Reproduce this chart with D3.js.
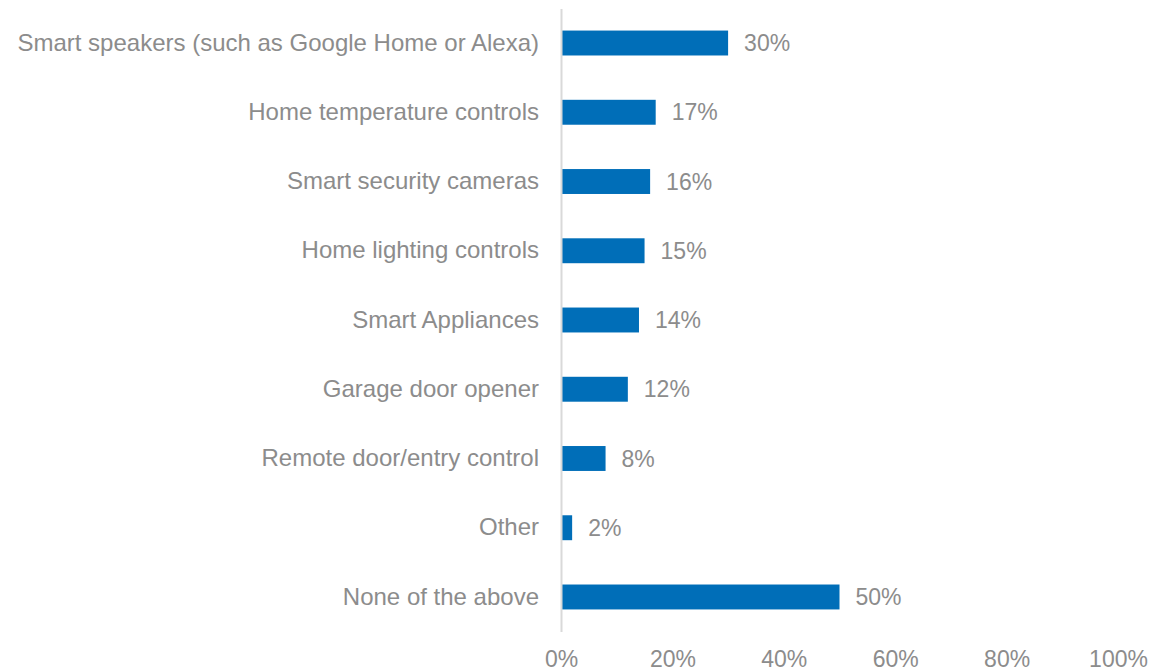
<!DOCTYPE html>
<html>
<head>
<meta charset="utf-8">
<script src="https://cdn.jsdelivr.net/npm/d3@7"></script>
<style>
  body { margin: 0; background: #fff; }
  text { font-family: "Liberation Sans", Arial, sans-serif; fill: #8c8c8c; }
</style>
</head>
<body>
<div id="chart"></div>
<script>
// chart data
var categories = ["Smart speakers (such as Google Home or Alexa)", "Home temperature controls",
  "Smart security cameras", "Home lighting controls", "Smart Appliances", "Garage door opener",
  "Remote door/entry control", "Other", "None of the above"];
var values = [30, 17, 16, 15, 14, 12, 8, 2, 50];
var ticks = [0, 20, 40, 60, 80, 100];

var width = 1151, height = 672;

var svg = d3.select("#chart")
  .append("svg")
    .attr("width", width)
    .attr("height", height);

// scales
var x = d3.scaleLinear().domain([0, 100]).range([561, 1118]);
var y = d3.scaleBand().domain(categories).range([8.4, 631.6])
  .paddingInner(0.64).paddingOuter(0.32);

// bars
svg.append("g")
  .selectAll("rect")
  .data(values)
  .enter().append("rect")
    .attr("x", x(0))
    .attr("y", function(d, i) { return y(categories[i]); })
    .attr("width", function(d) { return x(d) - x(0); })
    .attr("height", y.bandwidth())
    .attr("fill", "#006EB8");

// value labels
svg.append("g")
  .selectAll("text")
  .data(values)
  .enter().append("text")
    .attr("x", function(d) { return x(d) + 16; })
    .attr("y", function(d, i) { return y(categories[i]) + y.bandwidth() / 2; })
    .attr("dy", "0.35em")
    .style("font-size", "23px")
    .text(function(d) { return d + "%"; });

// category axis
var yAxis = svg.append("g")
  .attr("transform", "translate(" + x(0) + ",0)")
  .call(d3.axisLeft(y).tickSize(0).tickPadding(22));
yAxis.select(".domain").attr("stroke", "#d9d9d9").attr("stroke-width", 2);
yAxis.selectAll("text").style("font-size", "24px").style("font-family", null).attr("fill", null);

// value axis (labels only)
var xAxis = svg.append("g")
  .attr("transform", "translate(0,648)")
  .call(d3.axisBottom(x).tickValues(ticks).tickSize(0).tickFormat(function(d) { return d + "%"; }));
xAxis.select(".domain").remove();
xAxis.selectAll("text").style("font-size", "23px").style("font-family", null).attr("fill", null);
</script>
</body>
</html>
